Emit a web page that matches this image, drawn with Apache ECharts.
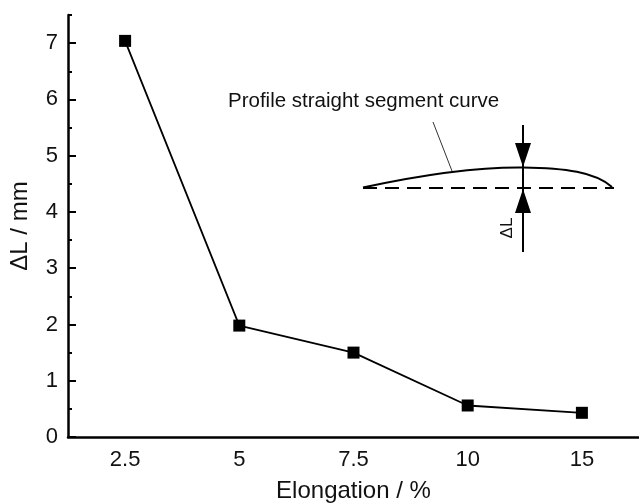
<!DOCTYPE html>
<html>
<head>
<meta charset="utf-8">
<script src="https://cdn.jsdelivr.net/npm/echarts@6/dist/echarts.min.js"></script>
<style>
  html, body { margin: 0; padding: 0; background: #fff; }
  #chart { width: 639px; height: 503px; }
</style>
</head>
<body>
<div id="chart"></div>
<script>
// elongation categories and measured deviation
const elongation = ['2.5', '5', '7.5', '10', '15']
const deltaL = [7.04, 1.98, 1.5, 0.56, 0.43]
const yMajorTicks = [0, 1, 2, 3, 4, 5, 6, 7]

const font = 'Liberation Sans, Arial, sans-serif'
const chart = echarts.init(document.getElementById('chart'))

chart.setOption({
  animation: false,
  grid: { left: 68, right: 0, top: 15, bottom: 66, outerBoundsMode: 'none' },
  xAxis: [{
    type: 'category',
    data: elongation,
    boundaryGap: true,
    name: 'Elongation / %',
    nameLocation: 'middle',
    nameGap: 42,
    nameTextStyle: { fontFamily: font, fontSize: 24, color: '#111' },
    axisLine: { lineStyle: { color: '#000', width: 2.5 } },
    axisTick: { alignWithLabel: true, inside: true, length: 8, lineStyle: { color: '#000', width: 2 } },
    axisLabel: { fontFamily: font, fontSize: 22, color: '#111', margin: 12 },
    splitLine: { show: false }
  }, {
    // short ticks at the category boundaries
    type: 'category',
    data: elongation,
    boundaryGap: true,
    position: 'bottom',
    axisLine: { show: false },
    axisTick: { inside: true, length: 4, lineStyle: { color: '#000', width: 2 } },
    axisLabel: { show: false },
    splitLine: { show: false }
  }],
  yAxis: [{
    type: 'value',
    min: 0,
    max: 7.5,
    interval: 0.5,
    name: 'ΔL / mm',
    nameLocation: 'middle',
    nameGap: 36,
    nameTextStyle: { fontFamily: font, fontSize: 24, color: '#111' },
    axisLine: { show: true, lineStyle: { color: '#000', width: 2.5 } },
    axisTick: { show: true, inside: true, length: 4, lineStyle: { color: '#000', width: 2 } },
    axisLabel: {
      fontFamily: font, fontSize: 22, color: '#111', margin: 10,
      formatter: v => (v % 1 === 0 ? String(v) : '')
    },
    splitLine: { show: false }
  }, {
    // long ticks at whole numbers
    type: 'value',
    min: 0,
    max: 7.5,
    position: 'left',
    axisLine: { show: false },
    axisTick: { show: true, inside: true, length: 8, customValues: yMajorTicks, lineStyle: { color: '#000', width: 2 } },
    axisLabel: { show: false },
    splitLine: { show: false }
  }],
  series: [{
    type: 'line',
    data: deltaL,
    symbol: 'rect',
    symbolSize: 12,
    itemStyle: { color: '#000' },
    lineStyle: { color: '#000', width: 1.8 }
  }],
  graphic: [
    {
      type: 'text', x: 228, y: 91,
      style: { text: 'Profile straight segment curve', fontFamily: font, fontSize: 20.5, fill: '#111', verticalAlign: 'top' }
    },
    {
      type: 'line',
      shape: { x1: 433, y1: 122, x2: 452, y2: 171 },
      style: { stroke: '#333', lineWidth: 1 }
    },
    {
      type: 'bezierCurve',
      shape: { x1: 363, y1: 187.5, cpx1: 430, cpy1: 173, cpx2: 480, cpy2: 167, x2: 523, y2: 167.5 },
      style: { stroke: '#000', lineWidth: 2, fill: null }
    },
    {
      type: 'bezierCurve',
      shape: { x1: 523, y1: 167.5, cpx1: 565, cpy1: 168, cpx2: 595, cpy2: 172, x2: 612, y2: 187 },
      style: { stroke: '#000', lineWidth: 2, fill: null }
    },
    {
      type: 'line',
      shape: { x1: 363, y1: 188, x2: 614, y2: 188 },
      style: { stroke: '#000', lineWidth: 2, lineDash: [14, 8] }
    },
    {
      type: 'line',
      shape: { x1: 523, y1: 125, x2: 523, y2: 252 },
      style: { stroke: '#000', lineWidth: 2 }
    },
    {
      type: 'polygon',
      shape: { points: [[515, 143], [531, 143], [523, 167]] },
      style: { fill: '#000' }
    },
    {
      type: 'polygon',
      shape: { points: [[515, 213], [531, 213], [523, 189]] },
      style: { fill: '#000' }
    },
    {
      type: 'text', x: 507, y: 228, rotation: Math.PI / 2,
      style: { text: 'ΔL', fontFamily: font, fontSize: 17, fill: '#111', align: 'center', verticalAlign: 'middle' }
    }
  ]
})
</script>
</body>
</html>
